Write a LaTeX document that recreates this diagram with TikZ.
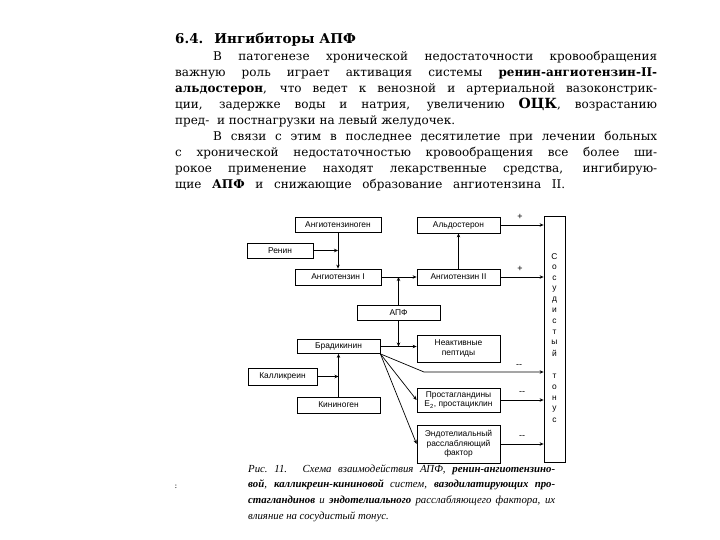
\documentclass[tikz,border=0pt]{standalone}
\usepackage{fontspec}
\setmainfont{DejaVu Serif}
\newfontfamily\capfont{Liberation Serif}
\newfontfamily\boxfont{Liberation Sans}
\usetikzlibrary{arrows.meta}
\tikzset{
  blk/.style={draw, line width=0.8pt, inner sep=0pt, align=center,
    font=\boxfont\fontsize{8.4}{9.6}\selectfont},
  arr/.style={line width=0.7pt, -{Stealth[length=4pt,width=3.5pt]}},
  sign/.style={inner sep=0pt, font=\boxfont\fontsize{9}{9}\selectfont},
  letter/.style={inner sep=0pt, font=\boxfont\fontsize{8.4}{9}\selectfont},
  bodytext/.style={inner sep=0pt, anchor=base west, align=left,
    font=\fontsize{12}{15.9}\selectfont},
  captext/.style={inner sep=0pt, anchor=base west, align=left,
    font=\capfont\itshape\fontsize{10.8}{15.8}\selectfont}
}
\begin{document}
\begin{tikzpicture}[x=1pt,y=-1pt]
\useasboundingbox (0,0) rectangle (720,540);

% title and text (anchor = baseline of the last line)
\node[inner sep=0pt, anchor=base west, font=\bfseries\fontsize{13.5}{16}\selectfont] (title) at (175,44) {6.4.\hspace{11pt}Ингибиторы АПФ};
\node[bodytext] (p1) at (175,124.6) {%
\makebox[482pt][s]{\hspace*{38pt}В патогенезе хронической недостаточности кровообращения}\\
\makebox[482pt][s]{важную роль играет активация системы \textbf{ренин-ангиотензин-II-}}\\
\makebox[482pt][s]{\textbf{альдостерон}, что ведет к венозной и артериальной вазоконстрик-}\\
\makebox[482pt][s]{ции, задержке воды и натрия, увеличению {\fontsize{14}{16}\selectfont\bfseries ОЦК}, возрастанию}\\
пред-\ \ и\ постнагрузки\ на\ левый\ желудочек.};
\node[bodytext] (p2) at (175,188.2) {%
\makebox[482pt][s]{\hspace*{38pt}В связи с этим в последнее десятилетие при лечении больных}\\
\makebox[482pt][s]{с хронической недостаточностью кровообращения все более ши-}\\
\makebox[482pt][s]{рокое применение находят лекарственные средства, ингибирую-}\\
\makebox[390pt][s]{щие \textbf{АПФ} и снижающие образование ангиотензина II.}};

% boxes
\node[blk, minimum width=86pt, minimum height=15pt] (agen) at (338,225) {Ангиотензиноген};
\node[blk, minimum width=66pt, minimum height=15pt] (renin) at (280,250.5) {Ренин};
\node[blk, minimum width=86pt, minimum height=16pt] (ang1) at (338,277) {Ангиотензин I};
\node[blk, minimum width=83pt, minimum height=16pt] (ald) at (458.5,225) {Альдостерон};
\node[blk, minimum width=83pt, minimum height=16pt] (ang2) at (458.5,277) {Ангиотензин II};
\node[blk, minimum width=83pt, minimum height=15pt] (apf) at (398.5,312.5) {АПФ};
\node[blk, minimum width=83pt, minimum height=14pt] (brad) at (338.5,346.5) {Брадикинин};
\node[blk, minimum width=83pt, minimum height=27pt] (inact) at (458.5,348.5) {Неактивные\\пептиды};
\node[blk, minimum width=69pt, minimum height=17pt] (kall) at (282.5,376.5) {Калликреин};
\node[blk, minimum width=83pt, minimum height=16pt] (kinin) at (338.5,405) {Кининоген};
\node[blk, minimum width=83pt, minimum height=24pt] (prost) at (458.5,400) {Простагландины\\Е\textsubscript{2}, простациклин};
\node[blk, minimum width=83pt, minimum height=38pt] (endo) at (458.5,444) {Эндотелиальный\\расслабляющий\\фактор};
\node[blk, minimum width=21pt, minimum height=246pt] (bar) at (554.5,339) {};

% letters in the bar
\foreach \ch [count=\i from 0] in {С,о,с,у,д,и,с,т,ы,й}
  \node[letter] at (554.5,{257+10.7*\i}) {\ch};
\foreach \ch [count=\i from 0] in {т,о,н,у,с}
  \node[letter] at (554.5,{376+11*\i}) {\ch};

% renin-angiotensin connectors
\coordinate (r1) at (agen.south |- renin.east);
\draw[arr] (agen.south) -- (ang1.north);
\draw[arr] (renin.east) -- (r1);
\draw[arr] (ang1.east) -- (ang2.west);
\coordinate (a1) at (apf.north |- ang1.east);
\draw[arr] (apf.north) -- (a1);
\draw[arr] (ang2.north) -- (ald.south);
\draw[arr] (ald.east) -- (bar.west |- ald.east);
\draw[arr] (ang2.east) -- (bar.west |- ang2.east);
\node[sign] at (520,217) {+};
\node[sign] at (520,269) {+};

% kinin connectors
\coordinate (a2) at (apf.south |- brad.east);
\draw[arr] (apf.south) -- (a2);
\draw[arr] (brad.east) -- (inact.west |- brad.east);
\coordinate (k1) at (424,372);
\draw[arr] (brad.south east) -- (k1) -- (bar.west |- k1);
\draw[arr] (brad.south east) -- (prost.west);
\draw[arr] (brad.south east) -- (endo.west);
\draw[arr] (prost.east) -- (bar.west |- prost.east);
\draw[arr] (endo.east) -- (bar.west |- endo.east);
\node[sign] at (519,366) {--};
\node[sign] at (522,393) {--};
\node[sign] at (522,437) {--};
\coordinate (k2) at (kinin.north |- kall.east);
\draw[arr] (kinin.north) -- (brad.south);
\draw[arr] (kall.east) -- (k2);

% caption
\node[captext] (cap) at (248,519.4) {%
\makebox[307pt][s]{Рис.\ 11. Схема взаимодействия АПФ, \textbf{ренин-ангиотензино-}}\\
\makebox[307pt][s]{\textbf{вой}, \textbf{калликреин-кининовой} систем, \textbf{вазодилатирующих про-}}\\
\makebox[307pt][s]{\textbf{стагландинов} и \textbf{эндотелиального} расслабляющего фактора, их}\\
влияние на сосудистый тонус.};
\node[inner sep=0pt, font=\fontsize{8}{8}\selectfont] (mark) at (176,487) {:};
\end{tikzpicture}
\end{document}
